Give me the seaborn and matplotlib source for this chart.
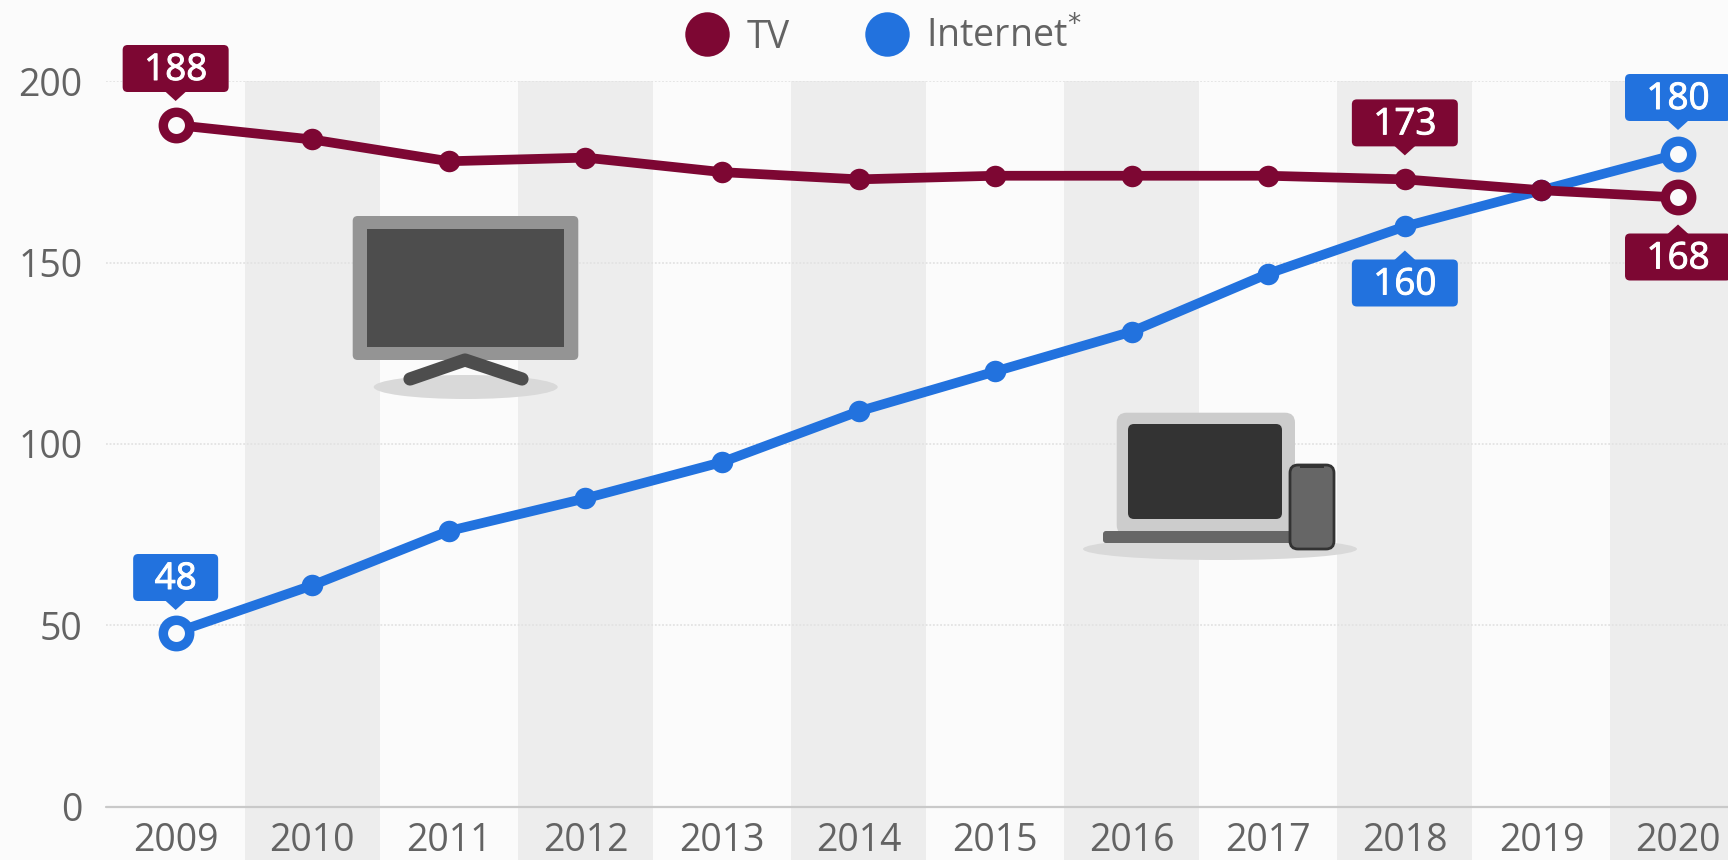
import matplotlib
matplotlib.use("Agg")
import matplotlib.pyplot as plt
from matplotlib.lines import Line2D
from matplotlib.patches import Ellipse, FancyBboxPatch, Polygon, Rectangle
from matplotlib import patheffects
import seaborn as sns

years = [2009, 2010, 2011, 2012, 2013, 2014, 2015, 2016, 2017, 2018, 2019, 2020]
tv = [188, 184, 178, 179, 175, 173, 174, 174, 174, 173, 170, 168]
internet = [48, 61, 76, 85, 95, 109, 120, 131, 147, 160, 170, 180]
y_ticks = [0, 50, 100, 150, 200]

TV_COLOR = "#7d0733"
NET_COLOR = "#2272de"
BG = "#fbfbfb"
BAND = "#ededed"
TEXT = "#636363"
FONT = 27
W, H = 1728, 860

sns.set_theme(style="white", rc={"figure.facecolor": BG, "axes.facecolor": BG})
plt.rcParams["font.family"] = ["Open Sans", "DejaVu Sans"]

fig = plt.figure(figsize=(W / 100, H / 100), dpi=100)
ax = fig.add_axes([106 / W, (H - 806.5) / H, (W - 106) / W, 725 / H])
ax.set_xlim(2008.49, 2020.366)
ax.set_ylim(0, 200)

# --- grey bands, every other year
for year in years[1::2]:
    ax.axvspan(year - 0.495, year + 0.495, ymin=-0.074, ymax=1, color=BAND, lw=0, clip_on=False, zorder=0)

# --- grid and baseline
for tick in y_ticks[1:]:
    ax.axhline(tick, color="#e3e3e3", lw=1.3, ls=(0, (1, 1)), zorder=1)
ax.axhline(0, color="#c9c9c9", lw=1.6, zorder=1, clip_on=False)


def plot_series(values, color):
    sns.lineplot(x=years, y=values, ax=ax, color=color, linewidth=7, marker="o", ms=15.5, mew=0, zorder=3, legend=False)
    # open rings on first and last year
    ax.plot([years[0], years[-1]], [values[0], values[-1]], ls="none", marker="o", ms=19, mew=6.8,
            mfc=BG, mec=color, zorder=4, clip_on=False)


plot_series(internet, NET_COLOR)
plot_series(tv, TV_COLOR)

sns.despine(ax=ax, left=True, bottom=True, top=True, right=True)
ax.set_xticks(years)
ax.set_yticks(y_ticks)
ax.tick_params(axis="both", length=0, labelsize=FONT, labelcolor=TEXT)
ax.tick_params(axis="x", pad=11.5)
ax.tick_params(axis="y", pad=17)
ax.set_xlabel("")
ax.set_ylabel("")

# --- legend
handles = [
    Line2D([], [], ls="none", marker="o", ms=32, mew=0, color=TV_COLOR, label="TV"),
    Line2D([], [], ls="none", marker="o", ms=32, mew=0, color=NET_COLOR, label="Internet$^{*}$"),
]
fig.legend(handles=handles, ncols=2, frameon=False, fontsize=FONT, labelcolor=TEXT, loc="center",
           bbox_to_anchor=(884 / W, 1 - 37 / H), handlelength=1.1, handletextpad=0.5, columnspacing=2.05)

# --- overlay in pixels for the icons and callouts
ov = fig.add_axes([0, 0, 1, 1], facecolor="none")
ov.set_xlim(0, W)
ov.set_ylim(H, 0)
ov.axis("off")


def rbox(x0, y0, x1, y1, color, r=4, **kw):
    ov.add_patch(FancyBboxPatch((x0 + r, y0 + r), x1 - x0 - 2 * r, y1 - y0 - 2 * r,
                                boxstyle=f"round,pad={r},rounding_size={r}", fc=color, ec=kw.pop("ec", "none"), **kw))


def callout(year, value, color, up=True, gap=33, width=106):
    px, py = ax.transData.transform((year, value))
    py = H - py
    sign = -1 if up else 1
    near = py + sign * gap
    far = near + sign * 47
    rbox(px - width / 2, min(near, far), px + width / 2, max(near, far), color, r=5)
    ov.add_patch(Polygon([(px - 11, near + sign), (px + 11, near + sign), (px, near - sign * 9)], fc=color, ec="none"))
    t = ov.text(px, (near + far) / 2 + 11.5, str(value), color="white", fontsize=26.5, ha="center", va="baseline")
    t.set_path_effects([patheffects.withStroke(linewidth=0.7, foreground="white")])


callout(2009, tv[0], TV_COLOR)
callout(2018, tv[9], TV_COLOR)
callout(2020, tv[11], TV_COLOR, up=False, gap=36)
callout(2009, internet[0], NET_COLOR, gap=31.5, width=85)
callout(2018, internet[9], NET_COLOR, up=False)
callout(2020, internet[11], NET_COLOR)

# --- TV icon
ov.add_patch(Ellipse((465.7, 387), 184, 24, fc="#d9d9d9", ec="none"))
ov.plot([410, 465, 522], [379, 360, 379], color="#4d4d4d", lw=9.5, solid_capstyle="round", solid_joinstyle="round")
rbox(352.7, 216, 578.3, 360, "#949494", r=5)
ov.add_patch(Rectangle((366.7, 229.3), 197.6, 117.4, fc="#4d4d4d", ec="none"))

# --- laptop and phone icon
ov.add_patch(Ellipse((1220, 549), 274, 22, fc="#d9d9d9", ec="none"))
rbox(1116.7, 412.7, 1295, 535, "#cccccc", r=10)
rbox(1128, 424, 1282, 519, "#333333", r=6)
rbox(1103, 531, 1292, 543, "#666666", r=3)
rbox(1290, 465, 1334, 549, "#666666", r=8, ec="#333333", lw=2)
ov.add_patch(Rectangle((1300, 465), 24, 3, fc="#333333", ec="none"))

fig.savefig("out.png", dpi=100, facecolor=BG)
